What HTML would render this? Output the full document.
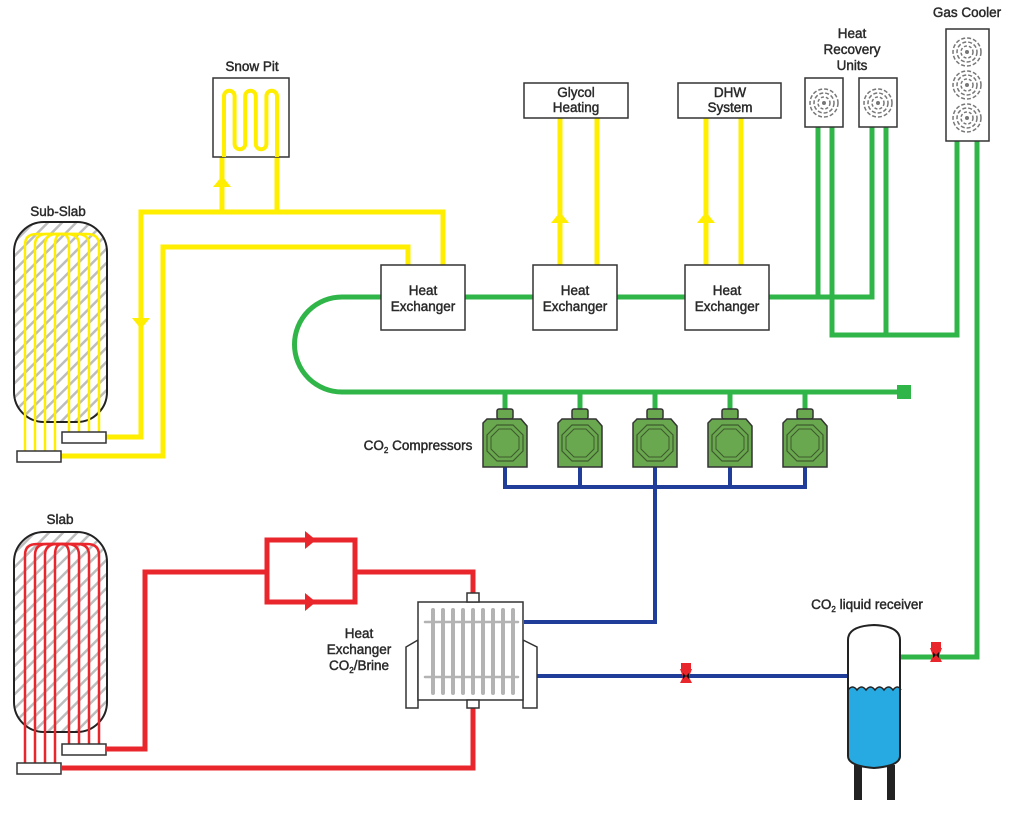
<!DOCTYPE html>
<html><head><meta charset="utf-8"><style>
html,body{margin:0;padding:0;background:#fff}
svg{display:block}
text{font-family:"Liberation Sans",sans-serif;font-size:13.5px;fill:#2a2a2a;stroke:#2a2a2a;stroke-width:0.45;text-anchor:middle}
</style></head><body>
<svg width="1024" height="813" viewBox="0 0 1024 813" xmlns="http://www.w3.org/2000/svg">
<defs>
<pattern id="hatch" width="10" height="10" patternUnits="userSpaceOnUse" patternTransform="rotate(45)">
<rect width="10" height="10" fill="#fff"/><rect x="0" y="0" width="2.5" height="10" fill="#bdbdbd"/>
</pattern>
<g id="fan">
<circle r="14" fill="none" stroke="#777" stroke-width="1.5" stroke-dasharray="4 2"/>
<circle r="10" fill="none" stroke="#777" stroke-width="1.5" stroke-dasharray="4 2"/>
<circle r="6" fill="none" stroke="#777" stroke-width="1.5" stroke-dasharray="3 2"/>
<circle r="2" fill="#777"/>
</g>
<g id="comp">
<rect x="-8" y="-12" width="16" height="10" rx="2" fill="#6aa84f" stroke="#333" stroke-width="1.5"/>
<path d="M-18,-2 H16 L22,5 V46 H-22 V2 Z" fill="#6aa84f" stroke="#333" stroke-width="1.5"/>
<polygon points="-8,4 8,4 18,14 18,30 8,40 -8,40 -18,30 -18,14" fill="#6aa84f" stroke="#3d5a2e" stroke-width="1.2"/>
<polygon points="-6,8 6,8 14,16 14,28 6,36 -6,36 -14,28 -14,16" fill="#6aa84f" stroke="#3d5a2e" stroke-width="1"/>
</g>
<g id="valve">
<rect x="-5" y="-10" width="10" height="6" fill="#e8262b"/>
<path d="M-6,-4 H6 L3,4 L6,10 H-6 L-3,4 Z" fill="#e8262b"/>
<path d="M-3,0 L0,3 L-3,6 Z M3,0 L0,3 L3,6 Z" fill="#111"/>
</g>
</defs>

<!-- YELLOW PIPES -->
<g fill="none" stroke="#ffee00" stroke-width="5">
<path d="M106,437 H141 V212 H443 V265"/>
<path d="M61,456 H163 V247 H408 V265"/>
<path d="M222,212 V157 M277,157 V212"/>
<path d="M560,265 V118 M597,265 V118"/>
<path d="M706,265 V118 M741,265 V118"/>
</g>
<g fill="#ffee00">
<polygon points="213,187 222,176 231,187"/>
<polygon points="132,318 141,329 150,318"/>
<polygon points="551,223 560,212 569,223"/>
<polygon points="697,223 706,212 715,223"/>
</g>

<!-- Snow pit -->
<rect x="213" y="78" width="76" height="79" fill="#fff" stroke="#333" stroke-width="1.5"/>
<path d="M224,157 V96 a5.3,5.3 0 0 1 10.6,0 V144 a5.3,5.3 0 0 0 10.6,0 V96 a5.3,5.3 0 0 1 10.6,0 V144 a5.3,5.3 0 0 0 10.6,0 V96 a5.3,5.3 0 0 1 10.6,0 V157" fill="none" stroke="#ffee00" stroke-width="4"/>
<text x="252" y="71">Snow Pit</text>

<!-- Sub-slab -->
<rect x="14" y="222" width="93" height="200" rx="30" fill="url(#hatch)" stroke="#222" stroke-width="2"/>
<g fill="none" stroke="#ffee00" stroke-width="2.5">
<path d="M25,451 V245 q0,-11 12,-11 H87 q12,0 12,11 V432"/>
<path d="M35,451 V245 q0,-11 12,-11 H77 q12,0 12,11 V432"/>
<path d="M45,451 V245 q0,-11 12,-11 H67 q12,0 12,11 V432"/>
<path d="M55,451 V245 q0,-11 7,-11 q7,0 7,11 V432"/>
</g>
<rect x="62" y="432" width="44" height="11" fill="#fff" stroke="#333" stroke-width="1.5"/>
<rect x="17" y="451" width="44" height="11" fill="#fff" stroke="#333" stroke-width="1.5"/>
<text x="58" y="216">Sub-Slab</text>

<!-- Slab -->
<rect x="14" y="532" width="93" height="200" rx="30" fill="url(#hatch)" stroke="#222" stroke-width="2"/>
<g fill="none" stroke="#e8262b" stroke-width="2.5">
<path d="M25,763 V555 q0,-11 12,-11 H87 q12,0 12,11 V744"/>
<path d="M35,763 V555 q0,-11 12,-11 H77 q12,0 12,11 V744"/>
<path d="M45,763 V555 q0,-11 12,-11 H67 q12,0 12,11 V744"/>
<path d="M55,763 V555 q0,-11 7,-11 q7,0 7,11 V744"/>
</g>
<rect x="62" y="744" width="44" height="11" fill="#fff" stroke="#333" stroke-width="1.5"/>
<rect x="17" y="763" width="44" height="11" fill="#fff" stroke="#333" stroke-width="1.5"/>
<text x="60" y="524">Slab</text>

<!-- RED PIPES -->
<g fill="none" stroke="#e8262b" stroke-width="5">
<path d="M106,749 H145 V572 H267"/>
<rect x="267" y="540" width="88" height="62"/>
<path d="M355,572 H473 V595"/>
<path d="M473,706 V768 H61"/>
</g>
<g fill="#e8262b">
<polygon points="305,531 316,540 305,549"/>
<polygon points="305,593 316,602 305,611"/>
</g>

<!-- GREEN PIPES -->
<g fill="none" stroke="#2fb548" stroke-width="5">
<path d="M342,297 H872 V127"/>
<path d="M342,297 A47.5,47.5 0 0 0 342,392 H904"/>
<path d="M818,127 V297"/>
<path d="M832,127 V335 H957 V141"/>
<path d="M886,127 V335"/>
<path d="M977,141 V657 H900"/>
<path d="M505,392 V415 M580,392 V415 M655,392 V415 M730,392 V415 M805,392 V415"/>
</g>
<rect x="897" y="385" width="14" height="14" fill="#2fb548"/>

<!-- BLUE PIPES -->
<g fill="none" stroke="#1f3d99" stroke-width="4">
<path d="M505,465 V487 H805 V465 M580,465 V487 M730,465 V487 M655,465 V622 H524"/>
<path d="M537,676 H848"/>
</g>

<!-- compressors -->
<use href="#comp" x="505" y="421"/>
<use href="#comp" x="580" y="421"/>
<use href="#comp" x="655" y="421"/>
<use href="#comp" x="730" y="421"/>
<use href="#comp" x="805" y="421"/>
<text x="418" y="450">CO<tspan font-size="8" dy="3">2</tspan><tspan dy="-3"> Compressors</tspan></text>

<!-- Heat exchangers -->
<g fill="#fff" stroke="#333" stroke-width="1.5">
<rect x="381" y="265" width="84" height="65"/>
<rect x="533" y="265" width="84" height="65"/>
<rect x="685" y="265" width="84" height="65"/>
<rect x="524" y="83" width="104" height="35"/>
<rect x="678" y="83" width="103" height="35"/>
</g>
<text x="423" y="295">Heat</text><text x="423" y="311">Exchanger</text>
<text x="575" y="295">Heat</text><text x="575" y="311">Exchanger</text>
<text x="727" y="295">Heat</text><text x="727" y="311">Exchanger</text>
<text x="576" y="97">Glycol</text><text x="576" y="112">Heating</text>
<text x="730" y="97">DHW</text><text x="730" y="112">System</text>

<!-- HRU -->
<rect x="805" y="78" width="38" height="49" fill="#fff" stroke="#333" stroke-width="1.5"/>
<rect x="859" y="78" width="38" height="49" fill="#fff" stroke="#333" stroke-width="1.5"/>
<use href="#fan" x="824" y="103"/>
<use href="#fan" x="878" y="103"/>
<text x="852" y="38">Heat</text><text x="852" y="54">Recovery</text><text x="852" y="70">Units</text>
<!-- Gas cooler -->
<rect x="946" y="29" width="43" height="112" fill="#fff" stroke="#333" stroke-width="1.5"/>
<use href="#fan" x="967" y="52"/>
<use href="#fan" x="967" y="85"/>
<use href="#fan" x="967" y="118"/>
<text x="967" y="17">Gas Cooler</text>

<!-- Brine HX -->
<g fill="#fff" stroke="#333" stroke-width="1.5">
<path d="M418,640 L406,647 V708 H418 Z"/>
<path d="M523,640 L537,647 V708 H523 Z"/>
<rect x="418" y="602" width="105" height="98"/>
<rect x="467" y="593" width="12" height="9"/>
<rect x="467" y="700" width="12" height="8"/>
</g>
<g stroke="#b3b3b3" stroke-width="4" stroke-linecap="round">
<path d="M433,610 V693 M443,610 V693 M453,610 V693 M463,610 V693 M473,610 V693 M483,610 V693 M493,610 V693 M503,610 V693 M513,610 V693"/>
<path d="M425,622 H518 M425,677 H518" stroke-width="2.5"/>
</g>
<text x="359" y="638">Heat</text><text x="359" y="654">Exchanger</text>
<text x="359" y="670">CO<tspan font-size="8" dy="3">2</tspan><tspan dy="-3">/Brine</tspan></text>

<!-- Receiver -->
<rect x="854" y="765" width="8" height="35" fill="#222"/>
<rect x="887" y="765" width="8" height="35" fill="#222"/>
<path d="M848,690 q4.5,-5 9,0 q4.5,-5 9,0 q4.5,-5 9,0 q4.5,-5 9,0 q4.5,-5 9,0 q4.5,-5 8,0 V756 q0,10 -26,12 q-26,-2 -26,-12 Z" fill="#27a9e1"/>
<path d="M848,640 q0,-14 26,-15 q26,1 26,15 V756 q0,10 -26,12 q-26,-2 -26,-12 Z" fill="none" stroke="#222" stroke-width="2"/>
<path d="M848,690 q4.5,-6 9,0 q4.5,-6 9,0 q4.5,-6 9,0 q4.5,-6 9,0 q4.5,-6 9,0 q4.5,-6 8,0" fill="none" stroke="#222" stroke-width="1.5"/>
<text x="867" y="609">CO<tspan font-size="8" dy="3">2</tspan><tspan dy="-3"> liquid receiver</tspan></text>

<use href="#valve" x="686" y="673"/>
<use href="#valve" x="936" y="652"/>
</svg>
</body></html>
